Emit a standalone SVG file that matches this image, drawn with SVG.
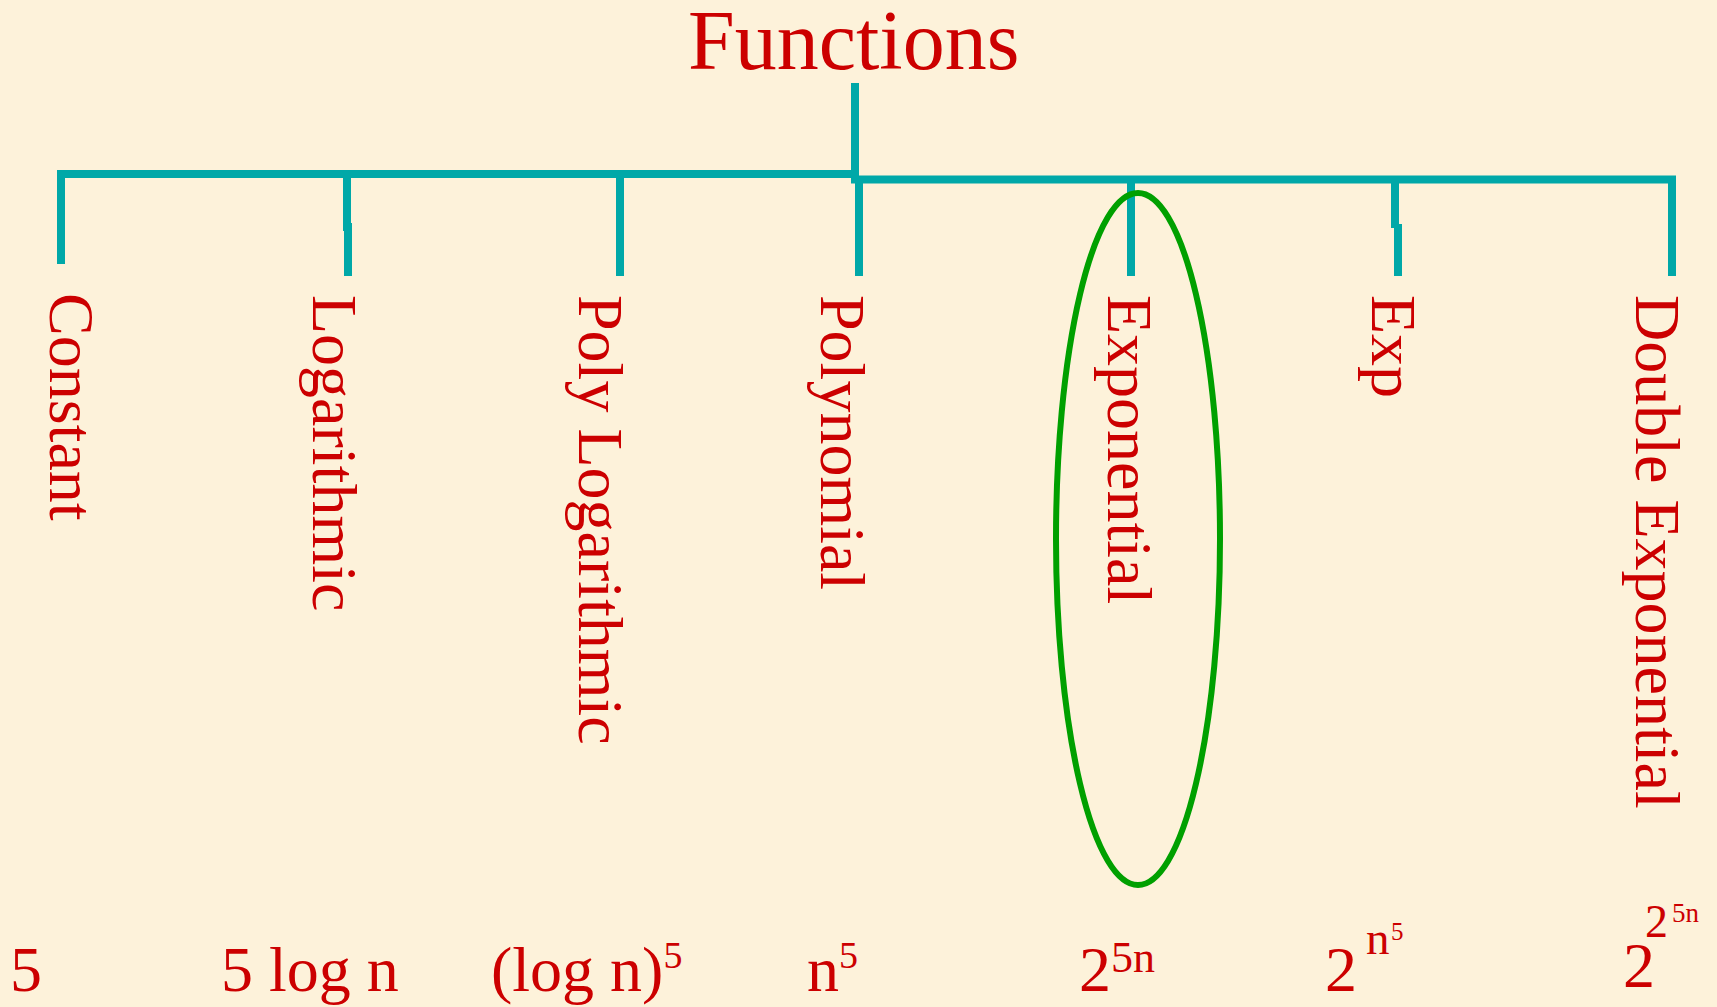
<svg xmlns="http://www.w3.org/2000/svg" width="1717" height="1007" viewBox="0 0 1717 1007">
<style>
.t{font-family:"Liberation Serif","Times New Roman",serif;fill:#CC0000}
.lbl{font-size:64px}
.ln{stroke:#00A8A8;stroke-width:8;fill:none;stroke-linecap:butt}
</style>
<rect width="1717" height="1007" fill="#FDF2DA"/>
<g id="connectors">
<path class="ln" d="M855 83V178"/>
<path class="ln" d="M57 174H859"/>
<path class="ln" d="M851 179.5H1676"/>
<path class="ln" d="M61 170V264"/>
<path class="ln" d="M347 178V231M348 223V276"/>
<path class="ln" d="M620 178V276"/>
<path class="ln" d="M859 183V276"/>
<path class="ln" d="M1131 183V276"/>
<path class="ln" d="M1395 183V228M1398 224V276"/>
<path class="ln" d="M1672 183V276"/>
</g>
<g id="root"><text class="t" x="688" y="69" font-size="84">Functions</text></g>
<g id="constant">
<text class="t lbl" transform="translate(50,293) rotate(90)">Constant</text>
<text class="t lbl" x="10" y="991">5</text>
</g>
<g id="logarithmic">
<text class="t lbl" transform="translate(313,295) rotate(90)">Logarithmic</text>
<text class="t lbl" x="221" y="991">5 log n</text>
</g>
<g id="polylogarithmic">
<text class="t lbl" transform="translate(579,295) rotate(90)">Poly Logarithmic</text>
<text class="t lbl" x="491" y="991">(log n)<tspan font-size="38" dy="-23">5</tspan></text>
</g>
<g id="polynomial">
<text class="t lbl" transform="translate(821,295) rotate(90)">Polynomial</text>
<text class="t lbl" x="807" y="991">n<tspan font-size="38" dy="-23">5</tspan></text>
</g>
<g id="exponential">
<text class="t lbl" transform="translate(1108,295) rotate(90)">Exponential</text>
<text class="t lbl" x="1079" y="991">2<tspan font-size="44" dy="-19">5n</tspan></text>
</g>
<g id="exp">
<text class="t lbl" transform="translate(1372,295) rotate(90)">Exp</text>
<text class="t lbl" x="1325" y="991">2</text>
<text class="t" x="1366" y="954" font-size="47">n</text>
<text class="t" x="1391" y="940" font-size="25">5</text>
</g>
<g id="double-exponential">
<text class="t lbl" transform="translate(1636,295) rotate(90)">Double Exponential</text>
<text class="t lbl" x="1623" y="987">2</text>
<text class="t" x="1645" y="937" font-size="46">2</text>
<text class="t" x="1672" y="922" font-size="27">5n</text>
</g>
<g id="highlight"><ellipse cx="1138" cy="539" rx="82" ry="346" fill="none" stroke="#00A000" stroke-width="6"/></g>
</svg>
